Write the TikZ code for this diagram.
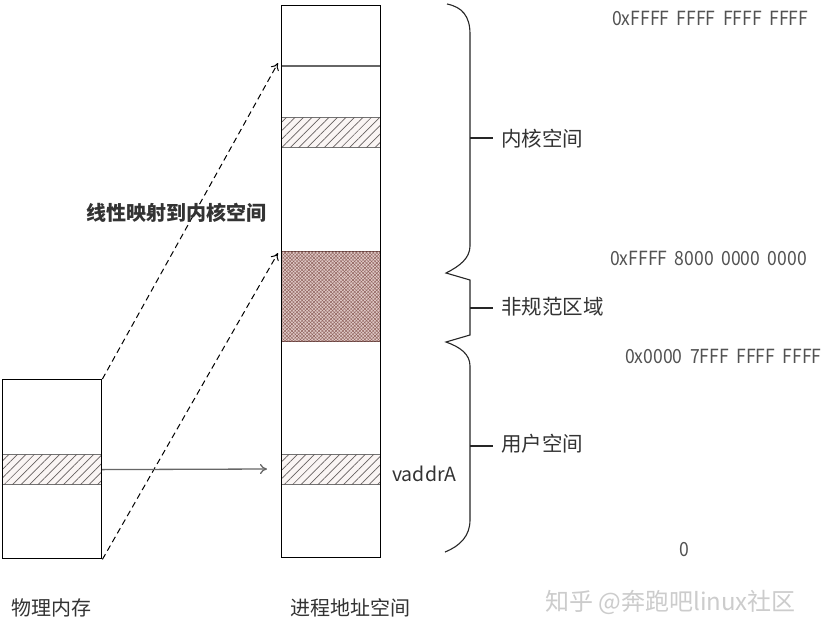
\documentclass[tikz,border=0pt]{standalone}
\usepackage{fontspec}
\setmainfont{Noto Sans CJK SC}
\newfontfamily\hexfont[FakeStretch=0.9]{Noto Sans CJK SC}
\usetikzlibrary{patterns.meta,arrows.meta}
\definecolor{txt}{HTML}{333333}
\definecolor{hatchbg}{HTML}{FAF5F4}
\definecolor{hatchln}{HTML}{666060}
\definecolor{denseln}{HTML}{8E605B}
\definecolor{densebg}{HTML}{E0CAC7}
\newcommand{\gsp}{\hspace{7.5pt}}
\begin{document}
\begin{tikzpicture}[x=1pt,y=-1pt,
  box/.style={draw=black,line width=1.4pt,inner sep=0pt,anchor=north west},
  hatchbox/.style={draw=gray!90!black,line width=1.2pt,inner sep=0pt,anchor=north west,fill=hatchbg,
     postaction={pattern={Lines[angle=45,distance=6pt,line width=0.7pt]},pattern color=hatchln}},
  densebox/.style={draw=denseln!70!black,line width=1.2pt,inner sep=0pt,anchor=north west,fill=densebg,
     postaction={pattern={Lines[angle=45,distance=2.4pt,line width=0.45pt]},pattern color=denseln},
     postaction={pattern={Lines[angle=-45,distance=2.4pt,line width=0.45pt]},pattern color=denseln}},
  lbl/.style={anchor=west,inner sep=0pt,text=txt,font=\fontsize{20.5}{22}\selectfont},
  hexlbl/.style={anchor=west,inner sep=0pt,text=txt!85,font=\hexfont\fontsize{19.5}{21}\selectfont},
  dashconn/.style={draw=black,line width=1pt,dash pattern=on 6pt off 4pt,-{To[length=7pt,width=9pt]}},
  brace/.style={draw=black!85,line width=1.1pt},
  wm/.style={anchor=west,inner sep=0pt,text=gray!40,font=\fontsize{24}{26}\selectfont}
]
\useasboundingbox (0,0) rectangle (839,633);
\fill[white] (0,0) rectangle (839,633);

% virtual address space column
\node[hatchbox,minimum width=99pt,minimum height=30pt] (kh) at (281,117) {};
\node[densebox,minimum width=99pt,minimum height=90pt] (nc) at (281,251) {};
\node[hatchbox,minimum width=99pt,minimum height=30pt] (uh) at (281,454) {};
\coordinate (l66a) at (281,66);
\coordinate (l66b) at (380,66);
\draw[gray!80!black,line width=1.3pt] (l66a) -- (l66b);
\node[box,minimum width=99pt,minimum height=552pt] (vas) at (281,5) {};

% physical memory
\node[hatchbox,minimum width=99pt,minimum height=30pt] (ph) at (2,454) {};
\node[box,minimum width=99pt,minimum height=179pt] (pm) at (2,379) {};

% connectors
\coordinate (t1) at (278,63);
\coordinate (t2) at (278,253);
\coordinate (t3) at (267,469);
\draw[dashconn] (pm.north east) -- (t1);
\draw[dashconn] (pm.south east) -- (t2);
\draw[gray!80!black,line width=1.3pt,-{To[length=7pt,width=10pt]}] (ph.east) -- (t3);

% braces
\coordinate (b0) at (447,4);
\coordinate (bt1) at (446,273);
\coordinate (bt2) at (446,342);
\coordinate (b3) at (445,552);
\draw[brace] (b0) .. controls (462,7) and (470,16) .. (470,34) -- (470,246)
  .. controls (470,258) and (460,266) .. (bt1) -- (470,280) -- (470,335) -- (bt2)
  .. controls (460,347) and (470,354) .. (470,366) -- (470,520)
  .. controls (470,536) and (460,546) .. (b3);
\coordinate (k0) at (470,138); \coordinate (k1) at (493,138);
\coordinate (m0) at (470,308); \coordinate (m1) at (493,308);
\coordinate (u0) at (470,446); \coordinate (u1) at (493,446);
\draw[brace] (k0) -- (k1);
\draw[brace] (m0) -- (m1);
\draw[brace] (u0) -- (u1);

% labels
\node[lbl] (lk) at (501,139) {内核空间};
\node[lbl] (lm) at (501,307) {非规范区域};
\node[lbl] (lu) at (501,444) {用户空间};
\node[lbl,font=\fontsize{19.5}{21}\selectfont] (va) at (392,474) {vaddrA};
\node[lbl,font=\fontsize{20}{22}\selectfont\bfseries] (lin) at (86,213) {线性映射到内核空间};
\node[lbl,font=\fontsize{20}{22}\selectfont] (pml) at (11,608) {物理内存};
\node[lbl,font=\fontsize{20}{22}\selectfont] (vasl) at (290,608) {进程地址空间};

\node[hexlbl] (h1) at (612,18) {0xFFFF\gsp FFFF\gsp FFFF\gsp FFFF};
\node[hexlbl] (h2) at (610,258) {0xFFFF\gsp 8000\gsp 0000\gsp 0000};
\node[hexlbl] (h3) at (625,356) {0x0000\gsp 7FFF\gsp FFFF\gsp FFFF};
\node[hexlbl] (h4) at (679,550) {0};

% watermark
\node[wm] (w2) at (545,602) {知乎 @奔跑吧linux社区};
\end{tikzpicture}
\end{document}
